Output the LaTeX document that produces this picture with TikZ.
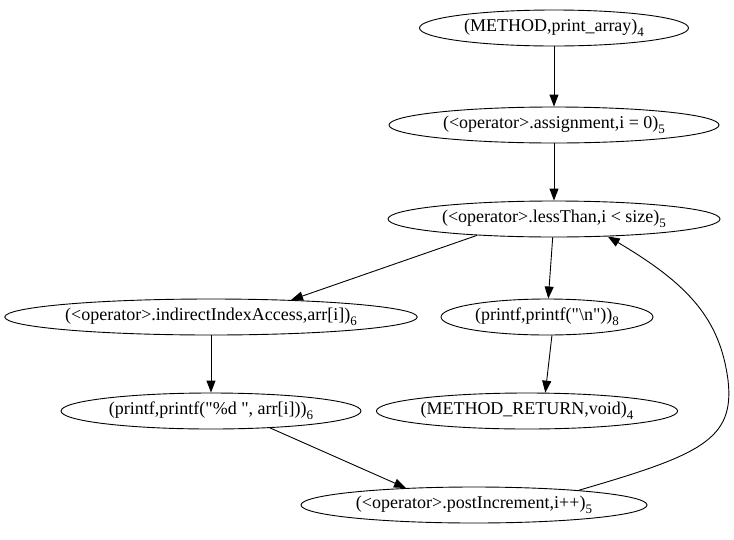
\documentclass[tikz,border=0pt]{standalone}
\usepackage{fontspec}
\newfontfamily\gvfont{Liberation Serif}
\usetikzlibrary{shapes.geometric,arrows.meta}
\newcommand\sbs[1]{\raisebox{-0.3em}{\fontsize{13}{13}\selectfont #1}}
\begin{document}
\begin{tikzpicture}[x=1pt,y=-1pt,
  gnode/.style={ellipse,draw,line width=0.9pt,inner sep=0pt,font=\gvfont\fontsize{18}{20}\selectfont},
  edge/.style={line width=0.9pt,-{Triangle[length=12pt,width=9pt]}}]
\useasboundingbox (0,0) rectangle (734,539);
\node[gnode,minimum width=269pt,minimum height=36pt] (m) at (554,28) {(METHOD,print\_array)\sbs{4}};
\node[gnode,minimum width=330pt,minimum height=36pt] (a) at (554,125) {(<operator>.assignment,i = 0)\sbs{5}};
\node[gnode,minimum width=332pt,minimum height=36pt] (l) at (554,219) {(<operator>.lessThan,i < size)\sbs{5}};
\node[gnode,minimum width=412pt,minimum height=36pt] (ia) at (211,317) {(<operator>.indirectIndexAccess,arr[i])\sbs{6}};
\node[gnode,minimum width=212pt,minimum height=36pt] (pn) at (547,317) {(printf,printf("\textbackslash n"))\sbs{8}};
\node[gnode,minimum width=300pt,minimum height=36pt] (pd) at (211,411) {(printf,printf("\%d ", arr[i]))\sbs{6}};
\node[gnode,minimum width=277pt,minimum height=36pt] (r) at (527,411) {(METHOD\_RETURN,void)\sbs{4}};
\node[gnode,minimum width=346pt,minimum height=36pt] (p) at (474,505) {(<operator>.postIncrement,i++)\sbs{5}};
\draw[edge] (m) -- (a);
\draw[edge] (a) -- (l);
\draw[edge] (l.192) -- (ia.12);
\draw[edge] (l) -- (pn);
\draw[edge] (pn.285) -- (r.45);
\draw[edge] (ia) -- (pd);
\draw[edge] (pd.344) -- (p.166);
\draw[edge] (p.8) .. controls (700,455) and (735,440) .. (728,380) .. controls (720,320) and (690,285) .. (l.342);
\end{tikzpicture}
\end{document}
